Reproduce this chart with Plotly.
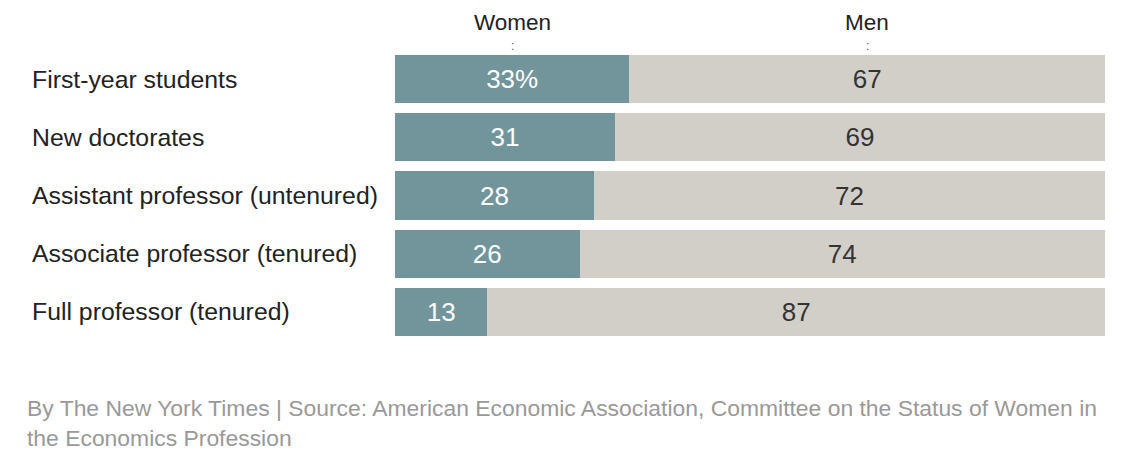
import plotly.graph_objects as go

categories = ["First-year students", "New doctorates", "Assistant professor (untenured)",
              "Associate professor (tenured)", "Full professor (tenured)"]
women = [33, 31, 28, 26, 13]
men = [67, 69, 72, 74, 87]
series_names = ["Women", "Men"]
source = ("By The New York Times | Source: American Economic Association, Committee on the Status of Women in"
          "<br>the Economics Profession")

FONT = "Liberation Sans"
women_text = [f"{v}%" if i == 0 else str(v) for i, v in enumerate(women)]
men_text = [str(v) for v in men]

fig = go.Figure()
fig.add_trace(go.Bar(y=categories, x=women, orientation="h", name=series_names[0],
                     marker=dict(color="#71959A", line=dict(width=0)),
                     text=women_text, textposition="inside", insidetextanchor="middle",
                     textangle=0, textfont=dict(family=FONT, size=26, color="white"),
                     hoverinfo="skip"))
fig.add_trace(go.Bar(y=categories, x=men, orientation="h", name=series_names[1],
                     marker=dict(color="#D2CFC8", line=dict(width=0)),
                     text=men_text, textposition="inside", insidetextanchor="middle",
                     textangle=0, textfont=dict(family=FONT, size=26, color="#333333"),
                     hoverinfo="skip"))

annotations = []
for c in categories:
    annotations.append(dict(x=0, y=c, xref="paper", yref="y", xanchor="left", yanchor="middle",
                            xshift=-365, text=c, showarrow=False,
                            font=dict(family=FONT, size=24.8, color="#222222")))
# column headers over first bar segments
hx = [women[0] / 2, women[0] + men[0] / 2]
for name, xv in zip(series_names, hx):
    annotations.append(dict(x=xv, y=1, xref="x", yref="paper", xanchor="center", yanchor="middle",
                            yshift=28, text=name, showarrow=False,
                            font=dict(family=FONT, size=22.5, color="#222222")))
    annotations.append(dict(x=xv, y=1, xref="x", yref="paper", xanchor="center", yanchor="middle",
                            yshift=4, text=":", showarrow=False,
                            font=dict(family=FONT, size=12, color="#555555")))
annotations.append(dict(x=0, y=0, xref="paper", yref="paper", xanchor="left", yanchor="top",
                        xshift=-370, yshift=-52, text=source, showarrow=False, align="left",
                        font=dict(family=FONT, size=22.9, color="#999999")))

fig.update_layout(
    width=1146, height=460,
    margin=dict(l=387, r=49, t=42, b=127),
    barmode="stack", bargap=0.17,
    showlegend=False,
    plot_bgcolor="white", paper_bgcolor="white",
    xaxis=dict(range=[0, 100], visible=False, fixedrange=True),
    yaxis=dict(autorange="reversed", visible=False, fixedrange=True),
    annotations=annotations,
)
fig.write_html("out.html")
